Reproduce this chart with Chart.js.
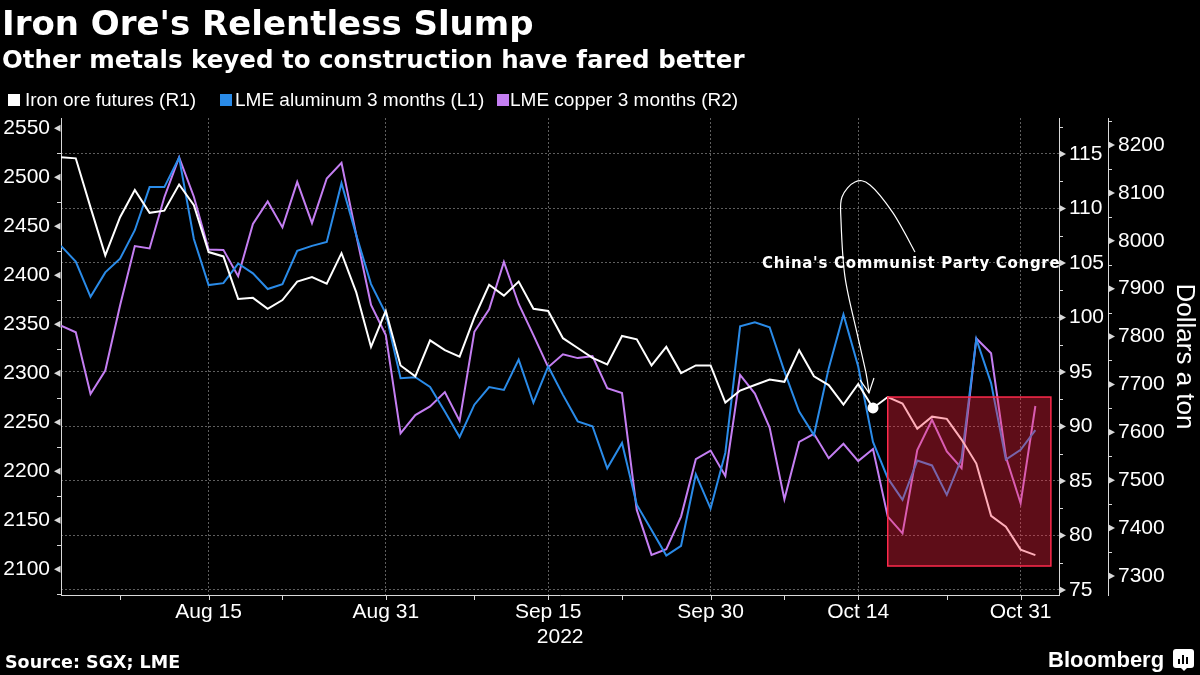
<!DOCTYPE html>
<html>
<head>
<meta charset="utf-8">
<script src="https://cdn.jsdelivr.net/npm/chart.js@4.4.1/dist/chart.umd.min.js"></script>
<style>
html,body{margin:0;padding:0;background:#000;}
#wrap{position:relative;width:1200px;height:675px;background:#000;overflow:hidden;}
#c{position:absolute;left:0;top:0;}
.t{position:absolute;color:#fff;white-space:nowrap;}
#title{left:2px;top:6px;font:bold 34px/34px "DejaVu Sans";}
#sub{left:2px;top:48px;font:bold 24.5px/24.5px "DejaVu Sans";}
.lg{position:absolute;top:90px;font:19px/19px "Liberation Sans";color:#fff;white-space:nowrap;}
.sw{position:absolute;top:94px;width:12px;height:12px;}
#src{left:5px;top:654px;font:bold 17.5px/17.5px "DejaVu Sans";}
#bb{left:1048px;top:649px;font:bold 22px/22px "Liberation Sans";}
#logo{position:absolute;left:1173px;top:649px;width:21px;height:19px;background:#fff;border-radius:3px;}
#logo i{position:absolute;bottom:4px;width:2px;background:#000;}
#tail{position:absolute;left:1180px;top:667px;width:0;height:0;border-left:4px solid transparent;border-right:4px solid transparent;border-top:4px solid #fff;}
</style>
</head>
<body>
<div id="wrap">
  <canvas id="c" width="1200" height="675"></canvas>
  <div class="t" id="title">Iron Ore's Relentless Slump</div>
  <div class="t" id="sub">Other metals keyed to construction have fared better</div>
  <div class="sw" style="left:8px;background:#ffffff"></div>
  <div class="lg" style="left:25px">Iron ore futures (R1)</div>
  <div class="sw" style="left:220px;background:#2a8be8"></div>
  <div class="lg" style="left:235px">LME aluminum 3 months (L1)</div>
  <div class="sw" style="left:497px;background:#c47ef2"></div>
  <div class="lg" style="left:510px">LME copper 3 months (R2)</div>
  <div class="t" id="src">Source: SGX; LME</div>
  <div class="t" id="bb">Bloomberg</div>
  <div id="logo"><i style="left:5px;height:5px"></i><i style="left:9px;height:9px"></i><i style="left:13px;height:7px"></i></div>
  <div id="tail"></div>
</div>
<script>
// ---- categories: trading days (weekdays) Aug 1 – Nov 1, 2022 ----
const DATES = [
 '2022-08-01','2022-08-02','2022-08-03','2022-08-04','2022-08-05',
 '2022-08-08','2022-08-09','2022-08-10','2022-08-11','2022-08-12',
 '2022-08-15','2022-08-16','2022-08-17','2022-08-18','2022-08-19',
 '2022-08-22','2022-08-23','2022-08-24','2022-08-25','2022-08-26',
 '2022-08-29','2022-08-30','2022-08-31',
 '2022-09-01','2022-09-02',
 '2022-09-05','2022-09-06','2022-09-07','2022-09-08','2022-09-09',
 '2022-09-12','2022-09-13','2022-09-14','2022-09-15','2022-09-16',
 '2022-09-19','2022-09-20','2022-09-21','2022-09-22','2022-09-23',
 '2022-09-26','2022-09-27','2022-09-28','2022-09-29','2022-09-30',
 '2022-10-03','2022-10-04','2022-10-05','2022-10-06','2022-10-07',
 '2022-10-10','2022-10-11','2022-10-12','2022-10-13','2022-10-14',
 '2022-10-17','2022-10-18','2022-10-19','2022-10-20','2022-10-21',
 '2022-10-24','2022-10-25','2022-10-26','2022-10-27','2022-10-28',
 '2022-10-31','2022-11-01'
];

// ---- series values ----
const IRON_ORE = [114.7,114.6,110.1,105.7,109.2,111.7,109.6,109.8,112.2,110.3,
 106.0,105.6,101.7,101.8,100.8,101.6,103.3,103.7,103.1,105.9,
 102.3,97.3,100.6,95.6,94.6,97.9,97.0,96.4,100.0,103.0,
 102.0,103.3,100.8,100.6,98.1,97.2,96.3,95.7,98.3,98.0,
 95.6,97.3,94.9,95.6,95.6,92.2,93.3,93.8,94.3,94.1,
 97.0,94.6,93.8,92.0,93.9,91.7,92.7,92.1,89.8,90.9,
 90.7,88.8,86.6,81.8,80.8,78.7,78.2];
const ALUMINUM = [2430,2414,2378,2403,2417,2446,2490,2490,2520,2437,
 2390,2392,2412,2402,2386,2391,2425,2430,2434,2494,
 2441,2391,2361,2295,2296,2286,2261,2235,2268,2286,
 2283,2314,2270,2307,2278,2251,2246,2203,2229,2166,
 2140,2114,2124,2197,2162,2219,2348,2352,2347,2302,
 2261,2237,2305,2360,2307,2230,2193,2171,2211,2206,
 2176,2213,2335,2290,2212,2222,2242];
const COPPER = [7823,7809,7680,7729,7865,7989,7984,8091,8174,8092,
 7982,7981,7926,8035,8082,8028,8123,8037,8130,8163,
 8012,7866,7803,7598,7636,7654,7684,7624,7810,7857,
 7956,7868,7803,7736,7763,7755,7759,7692,7682,7438,
 7344,7356,7424,7544,7562,7509,7720,7681,7610,7460,
 7580,7597,7546,7576,7540,7565,7424,7389,7563,7626,
 7560,7525,7796,7765,7549,7452,7655];

// ---- tick labels ----
const X_MAJOR_DATES = ['2022-08-15','2022-08-31','2022-09-15','2022-09-30','2022-10-14','2022-10-31'];
const X_MAJOR_LABELS = ['Aug 15','Aug 31','Sep 15','Sep 30','Oct 14','Oct 31'];
const X_MINOR_DATES = ['2022-08-05','2022-08-22','2022-09-08','2022-09-22','2022-10-07','2022-10-24'];
const YEAR_LABEL = '2022';
const YEAR_UNDER = '2022-09-15';
const L1_TICKS = [2100,2150,2200,2250,2300,2350,2400,2450,2500,2550];
const L1_MINOR = [2075,2125,2175,2225,2275,2325,2375,2425,2475,2525];
const R1_TICKS = [75,80,85,90,95,100,105,110,115];
const R1_MINOR = [77.5,82.5,87.5,92.5,97.5,102.5,107.5,112.5,117.5];
const R2_TICKS = [7300,7400,7500,7600,7700,7800,7900,8000,8100,8200];
const R2_MINOR = [7350,7450,7550,7650,7750,7850,7950,8050,8150,8250];

// ---- annotation ----
const EVENT_DATE = '2022-10-17';
const EVENT_LABEL = "China's Communist Party Congress";
const HIGHLIGHT_FROM = '2022-10-18';
const HIGHLIGHT_TO_IDX_PAD = 1.05;   // rectangle runs slightly past last date
const HIGHLIGHT_R1_TOP = 92.7;
const HIGHLIGHT_R1_BOTTOM = 77.2;

const AXIS_COLOR = '#d8d8d8';
const GRID_COLOR = '#5e5e5e';
const TICK_FONT = {family:'Liberation Sans', size:21};

const idx = d => DATES.indexOf(d);
const X_MAJOR_IDX = X_MAJOR_DATES.map(idx);
const X_MINOR_IDX = X_MINOR_DATES.map(idx);
const toXY = arr => arr.map((v,i)=>({x:i, y:v}));
const plain = v => String(v);

function smoothPath(ctx, pts){
  ctx.moveTo(pts[0][0], pts[0][1]);
  for (let i=0;i<pts.length-1;i++){
    const p0 = pts[i-1]||pts[i], p1 = pts[i], p2 = pts[i+1], p3 = pts[i+2]||p2;
    ctx.bezierCurveTo(p1[0]+(p2[0]-p0[0])/6, p1[1]+(p2[1]-p0[1])/6,
                      p2[0]-(p3[0]-p1[0])/6, p2[1]-(p3[1]-p1[1])/6, p2[0], p2[1]);
  }
}

const decor = {
  id:'decor',
  afterDatasetsDraw(chart){
    const {ctx, chartArea:ca, scales:{x, yR1}} = chart;
    ctx.save();
    // highlight rectangle
    const rx0 = x.getPixelForValue(idx(HIGHLIGHT_FROM));
    const rx1 = x.getPixelForValue(DATES.length-1+HIGHLIGHT_TO_IDX_PAD);
    const ry0 = yR1.getPixelForValue(HIGHLIGHT_R1_TOP);
    const ry1 = yR1.getPixelForValue(HIGHLIGHT_R1_BOTTOM);
    ctx.fillStyle = 'rgba(255,35,65,0.37)';
    ctx.fillRect(rx0, ry0, rx1-rx0, ry1-ry0);
    ctx.strokeStyle = '#ff2a4c'; ctx.lineWidth = 1.5;
    ctx.strokeRect(rx0, ry0, rx1-rx0, ry1-ry0);
    // event dot
    const ei = idx(EVENT_DATE);
    const dx = x.getPixelForValue(ei), dy = yR1.getPixelForValue(IRON_ORE[ei]);
    ctx.fillStyle = '#fff';
    ctx.beginPath(); ctx.arc(dx, dy, 5.5, 0, Math.PI*2); ctx.fill();
    // curved arrow
    const rel = [[42,-156],[20,-195],[-3,-223],[-18,-226],[-31,-211],[-32,-188],[-28,-131],[-16,-75],[-7,-35],[-4,-15]];
    const pts = rel.map(p=>[dx+p[0], dy+p[1]]);
    ctx.strokeStyle = '#fff'; ctx.lineWidth = 1.2;
    ctx.beginPath(); smoothPath(ctx, pts); ctx.stroke();
    const tip = pts[pts.length-1];
    ctx.beginPath();
    ctx.moveTo(tip[0]+5, tip[1]-15); ctx.lineTo(tip[0], tip[1]); ctx.lineTo(tip[0]-9, tip[1]-13);
    ctx.stroke();
    // label, clipped to plot area
    ctx.beginPath(); ctx.rect(ca.left, ca.top, ca.right-ca.left, ca.bottom-ca.top); ctx.clip();
    ctx.font = 'bold 15px "DejaVu Sans"';
    try { ctx.letterSpacing = '0.7px'; } catch(e) {}
    ctx.textBaseline = 'middle'; ctx.textAlign = 'left';
    ctx.fillText(EVENT_LABEL, dx-111, dy-144);
    ctx.restore();
  },
  afterDraw(chart){
    const {ctx, scales:{x, yL, yR1, yR2}} = chart;
    ctx.save();
    ctx.fillStyle = AXIS_COLOR; ctx.strokeStyle = AXIS_COLOR; ctx.lineWidth = 1;
    const triL = (ax,y)=>{ctx.beginPath();ctx.moveTo(ax-0.5,y-3.5);ctx.lineTo(ax-0.5,y+3.5);ctx.lineTo(ax-7,y);ctx.closePath();ctx.fill();};
    const triR = (ax,y)=>{ctx.beginPath();ctx.moveTo(ax+0.5,y-3.5);ctx.lineTo(ax+0.5,y+3.5);ctx.lineTo(ax+7,y);ctx.closePath();ctx.fill();};
    const hl = (x0,x1,y)=>{ctx.beginPath();ctx.moveTo(x0,Math.round(y)+0.5);ctx.lineTo(x1,Math.round(y)+0.5);ctx.stroke();};
    const axL = yL.right;
    L1_TICKS.forEach(v=>triL(axL, yL.getPixelForValue(v)));
    L1_MINOR.forEach(v=>{const y=yL.getPixelForValue(v); if(y>=yL.top&&y<=yL.bottom) hl(axL-4,axL,y);});
    const axR1 = yR1.left;
    R1_TICKS.forEach(v=>triR(axR1, yR1.getPixelForValue(v)));
    R1_MINOR.forEach(v=>{const y=yR1.getPixelForValue(v); if(y>=yR1.top&&y<=yR1.bottom) hl(axR1,axR1+4,y);});
    const axR2 = yR2.left;
    R2_TICKS.forEach(v=>triR(axR2, yR2.getPixelForValue(v)));
    R2_MINOR.forEach(v=>{const y=yR2.getPixelForValue(v); if(y>=yR2.top&&y<=yR2.bottom) hl(axR2,axR2+4,y);});
    // x ticks
    const by = x.top;
    [...X_MAJOR_IDX, ...X_MINOR_IDX].forEach(i=>{
      const px = Math.round(x.getPixelForValue(i))+0.5;
      ctx.beginPath(); ctx.moveTo(px, by); ctx.lineTo(px, by+5); ctx.stroke();
    });
    // year label
    ctx.fillStyle = '#fff';
    ctx.font = '21px "Liberation Sans"';
    ctx.textAlign = 'center'; ctx.textBaseline = 'middle';
    ctx.fillText(YEAR_LABEL, x.getPixelForValue(idx(YEAR_UNDER))+12, 637);
    ctx.restore();
  }
};

const fixW = w => s => { s.width = w; s.paddingTop = 0; s.paddingBottom = 0; };

new Chart(document.getElementById('c'), {
  type:'line',
  data:{
    datasets:[
      {label:'Iron ore futures (R1)', data:toXY(IRON_ORE), yAxisID:'yR1', borderColor:'#ffffff', borderWidth:2, pointRadius:0, tension:0},
      {label:'LME aluminum 3 months (L1)', data:toXY(ALUMINUM), yAxisID:'yL', borderColor:'#2a8be8', borderWidth:2, pointRadius:0, tension:0},
      {label:'LME copper 3 months (R2)', data:toXY(COPPER), yAxisID:'yR2', borderColor:'#c47ef2', borderWidth:2, pointRadius:0, tension:0}
    ]
  },
  options:{
    responsive:false, animation:false, devicePixelRatio:1,
    layout:{padding:{top:118, left:0, right:0, bottom:0}},
    plugins:{legend:{display:false}, tooltip:{enabled:false}},
    scales:{
      x:{type:'linear', position:'bottom', min:0, max:67.6,
        afterBuildTicks:s=>{ s.ticks = X_MAJOR_IDX.map(v=>({value:v})); },
        afterFit:s=>{ s.height = 80; s.paddingLeft = 0; s.paddingRight = 0; },
        ticks:{autoSkip:false, maxRotation:0, color:'#fff', font:TICK_FONT, padding:5,
          callback:v=>{ const k = X_MAJOR_IDX.indexOf(v); return k>=0 ? X_MAJOR_LABELS[k] : ''; }},
        grid:{display:true, drawOnChartArea:true, drawTicks:false, color:GRID_COLOR, lineWidth:1},
        border:{display:true, color:AXIS_COLOR, width:1, dash:[2,2]}
      },
      yL:{type:'linear', position:'left', min:2073.8, max:2560.5,
        afterBuildTicks:s=>{ s.ticks = L1_TICKS.map(v=>({value:v})); },
        afterFit:fixW(61),
        ticks:{color:'#fff', font:TICK_FONT, padding:11, callback:plain},
        grid:{drawOnChartArea:false, drawTicks:false},
        border:{display:true, color:AXIS_COLOR, width:1}
      },
      yR1:{type:'linear', position:'right', min:74.54, max:118.3,
        afterBuildTicks:s=>{ s.ticks = R1_TICKS.map(v=>({value:v})); },
        afterFit:fixW(49),
        ticks:{color:'#fff', font:TICK_FONT, padding:10, callback:plain},
        grid:{drawOnChartArea:true, drawTicks:false, color:GRID_COLOR, lineWidth:1},
        border:{display:true, color:AXIS_COLOR, width:1, dash:[2,2]}
      },
      yR2:{type:'linear', position:'right', min:7260.3, max:8256.4,
        afterBuildTicks:s=>{ s.ticks = R2_TICKS.map(v=>({value:v})); },
        afterFit:fixW(92),
        ticks:{color:'#fff', font:TICK_FONT, padding:10, callback:plain},
        grid:{drawOnChartArea:false, drawTicks:false},
        border:{display:true, color:AXIS_COLOR, width:1},
        title:{display:true, text:'Dollars a ton', color:'#fff', font:{family:'Liberation Sans', size:26}, padding:0}
      }
    }
  },
  plugins:[decor]
});
</script>
</body>
</html>
